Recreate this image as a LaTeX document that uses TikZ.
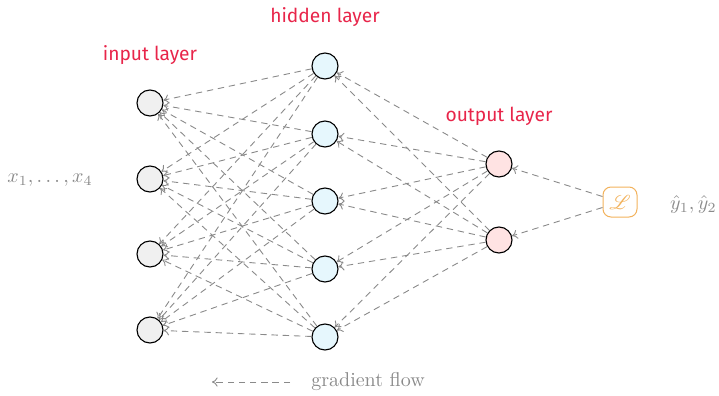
\documentclass[tikz,border=0pt]{standalone}
\usepackage{mathrsfs}
\usepackage{fontspec}
\newfontfamily\layerfont{Fira Sans}
\usetikzlibrary{arrows.meta}
\definecolor{layerred}{HTML}{E8254A}
\definecolor{lossorange}{HTML}{F2B25C}
\definecolor{flowgray}{HTML}{8A8A8A}
\tikzset{
    neuron/.style={circle, draw=black, line width=0.55pt, minimum size=13pt, inner sep=0pt},
    grad/.style={draw=flowgray, line width=0.45pt, dash pattern=on 3.2pt off 2.4pt, -{To[length=2.8pt,width=4.6pt]}},
    layerlabel/.style={text=layerred, font=\layerfont\fontsize{9.6}{11}\selectfont},
}

\begin{document}
\begin{tikzpicture}[x=0.5pt,y=-0.5pt]
                \useasboundingbox (0,0) rectangle (719,396);
                \foreach \i/\y in {1/103,2/179,3/254,4/330}
                    \node[neuron, fill=black!6] (in\i) at (150,\y) {};
                \foreach \i/\y in {1/66,2/134,3/201,4/269,5/337}
                    \node[neuron, fill=cyan!10] (hid\i) at (325,\y) {};
                \foreach \i/\y in {1/164,2/240}
                    \node[neuron, fill=red!11] (out\i) at (499,\y) {};
                \node[draw=lossorange, text=lossorange, rounded corners=4pt, line width=0.5pt,
                      minimum width=17pt, minimum height=15pt, inner sep=1pt] (loss) at (620,202) {$\mathscr{L}$};

                \node[layerlabel] (inlab) at (150,55) {input layer};
                \node[layerlabel] (hidlab) at (325,17) {hidden layer};
                \node[layerlabel] (outlab) at (499,116) {output layer};
                \node[text=flowgray] (xs) at (50,180) {$x_1, \ldots, x_4$};
                \node[text=flowgray, anchor=east, inner sep=1pt] (ys) at (719,204) {$\hat{y}_1, \hat{y}_2$};

                \foreach \h in {1,...,5}
                    \foreach \i in {1,...,4}
                        \draw[grad] (hid\h) -- (in\i);
                \foreach \o in {1,2}
                    \foreach \h in {1,...,5}
                        \draw[grad] (out\o) -- (hid\h);
                \draw[grad] (loss) -- (out1);
                \draw[grad] (loss) -- (out2);

                \coordinate (legstart) at (290,382);
                \coordinate (legend) at (212,382);
                \draw[grad] (legstart) -- (legend);
                \node[text=flowgray] (leglab) at (368,382) {gradient flow};
            \end{tikzpicture}
\end{document}
